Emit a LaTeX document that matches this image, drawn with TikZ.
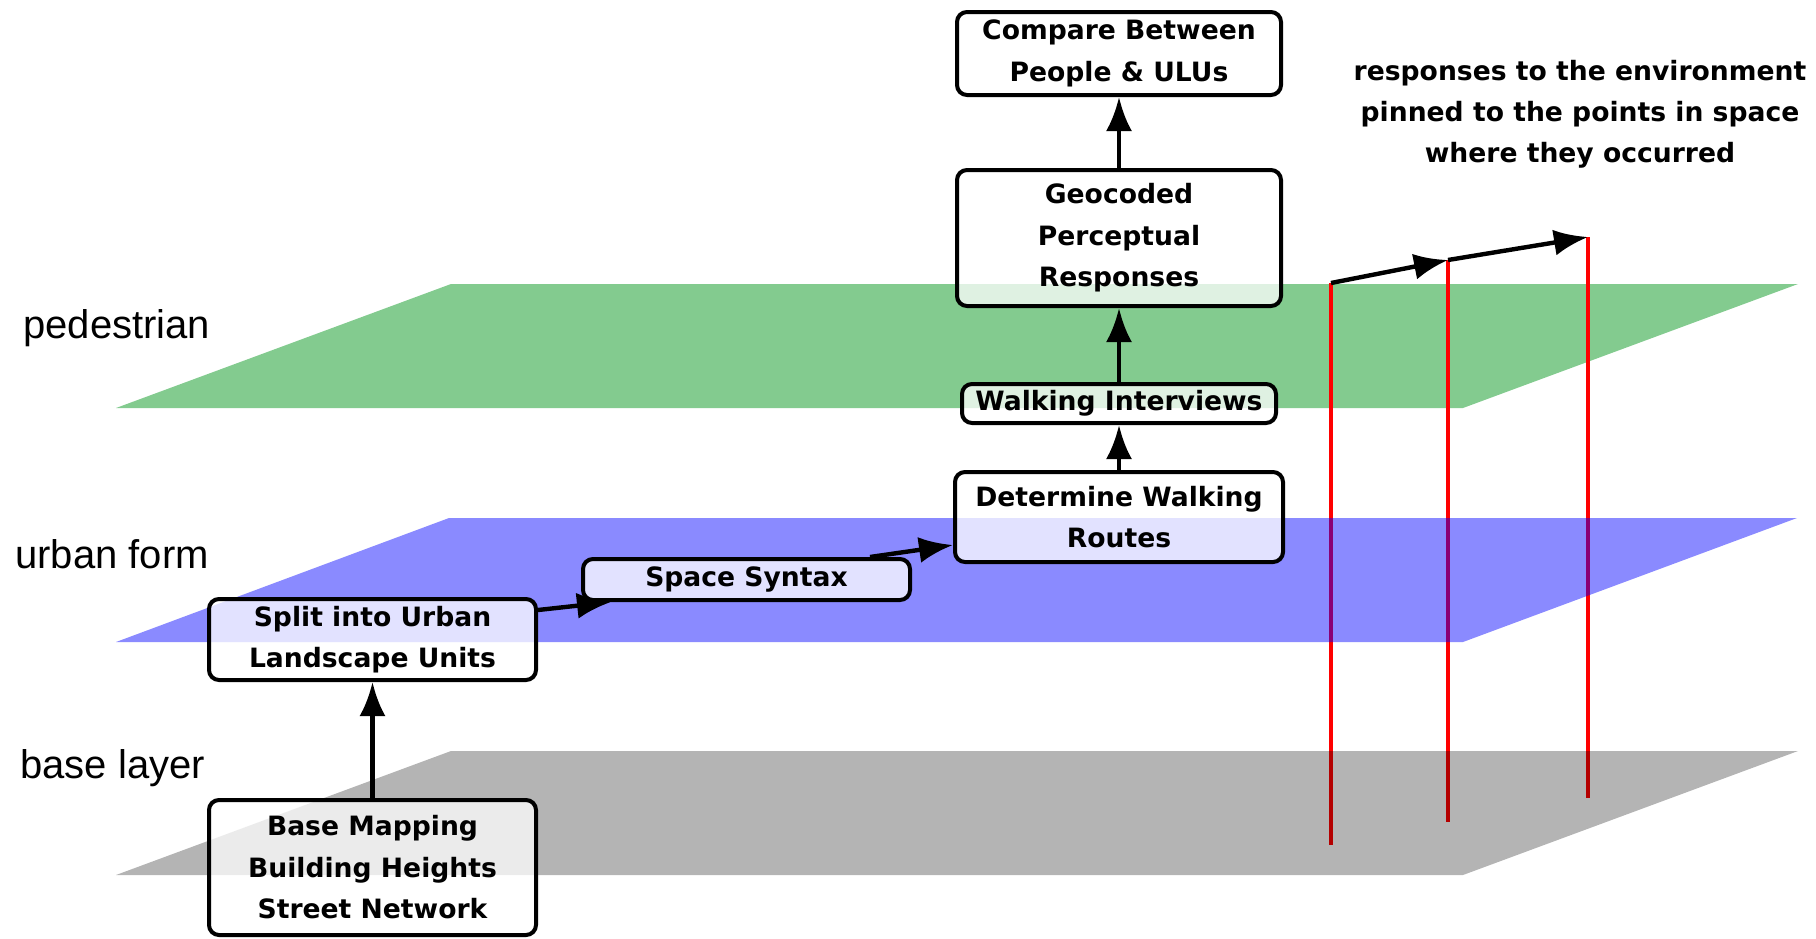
\documentclass[tikz,border=0pt]{standalone}
\usepackage{fontspec}
\setmainfont{DejaVu Sans}
\newfontfamily\labfont{Liberation Sans}
\usetikzlibrary{arrows.meta,calc}
\definecolor{greenplane}{HTML}{83CB8F}
\begin{document}
\begin{tikzpicture}[x=0.5pt,y=-0.5pt,
  stepbox/.style={draw, line width=2pt, rounded corners=5pt, fill=white,
    fill opacity=0.75, text opacity=1, align=center, inner sep=0pt,
    font=\bfseries\fontsize{13.3}{20.75}\selectfont},
  flow/.style={line width=2.2pt, -{Latex[length=17pt,width=13pt]}},
  pin/.style={red, line width=2.4pt},
  layerlabel/.style={font=\labfont\fontsize{20}{24}\selectfont, anchor=base west, inner sep=0pt},
  note/.style={font=\bfseries\fontsize{13.3}{20.5}\selectfont, anchor=base, inner sep=0pt}]
\useasboundingbox (0,0) rectangle (1816,938);

% pedestrian plane
\fill[greenplane] (116,408) -- (1463,408) -- (1798,284) -- (451,284) -- cycle;

% pins
\coordinate (p1) at (1331,283);
\coordinate (p1b) at (1331,845);
\coordinate (p2) at (1448,260);
\coordinate (p2b) at (1448,822);
\coordinate (p3) at (1588,237);
\coordinate (p3b) at (1588,798);
\draw[pin] (p1) -- (p1b);
\draw[pin] (p2) -- (p2b);
\draw[pin] (p3) -- (p3b);

% urban form plane and base plane
\fill[blue, opacity=0.46] (116,642) -- (1463,642) -- (1797,518) -- (449,518) -- cycle;
\fill[black, opacity=0.295] (116,875) -- (1463,875) -- (1798,751) -- (451,751) -- cycle;

% boxes
\node[stepbox, minimum width=162pt, minimum height=41.5pt] (comp) at (1119,53.5) {Compare Between\\People \& ULUs};
\node[stepbox, minimum width=162pt, minimum height=68pt] (geo) at (1119,238) {Geocoded\\Perceptual\\Responses};
\node[stepbox, minimum width=157pt, minimum height=19.5pt] (walk) at (1119,403.5) {Walking Interviews};
\node[stepbox, minimum width=164pt, minimum height=45pt] (det) at (1119,517) {Determine Walking\\Routes};
\node[stepbox, minimum width=163.5pt, minimum height=20.5pt] (ss) at (746.5,579.5) {Space Syntax};
\node[stepbox, minimum width=163.5pt, minimum height=40.5pt] (split) at (372.5,639.5) {Split into Urban\\Landscape Units};
\node[stepbox, minimum width=163.5pt, minimum height=67.5pt] (base) at (372.5,867.5) {Base Mapping\\Building Heights\\Street Network};

% flow arrows
\draw[flow] (base.north) -- (split.south);
\draw[flow] ($(split.north east)+(0,13)$) -- ($(ss.south west)+(30,0)$);
\draw[flow] ($(ss.north east)+(-42,0)$) -- ($(det.south west)+(0,-19)$);
\draw[flow] (det.north) -- (walk.south);
\draw[flow] (walk.north) -- (geo.south);
\draw[flow] (geo.north) -- (comp.south);

% pin arrows
\draw[flow] (p1) -- (p2);
\draw[flow] (p2) -- (p3);

% layer labels
\node[layerlabel] (lped) at (23,338) {pedestrian};
\node[layerlabel] (lurb) at (15,568) {urban form};
\node[layerlabel] (lbase) at (20,778) {base layer};

% note
\node[note] (n1) at (1580,80) {responses to the environment};
\node[note] (n2) at (1580,121) {pinned to the points in space};
\node[note] (n3) at (1580,162) {where they occurred};
\end{tikzpicture}
\end{document}
